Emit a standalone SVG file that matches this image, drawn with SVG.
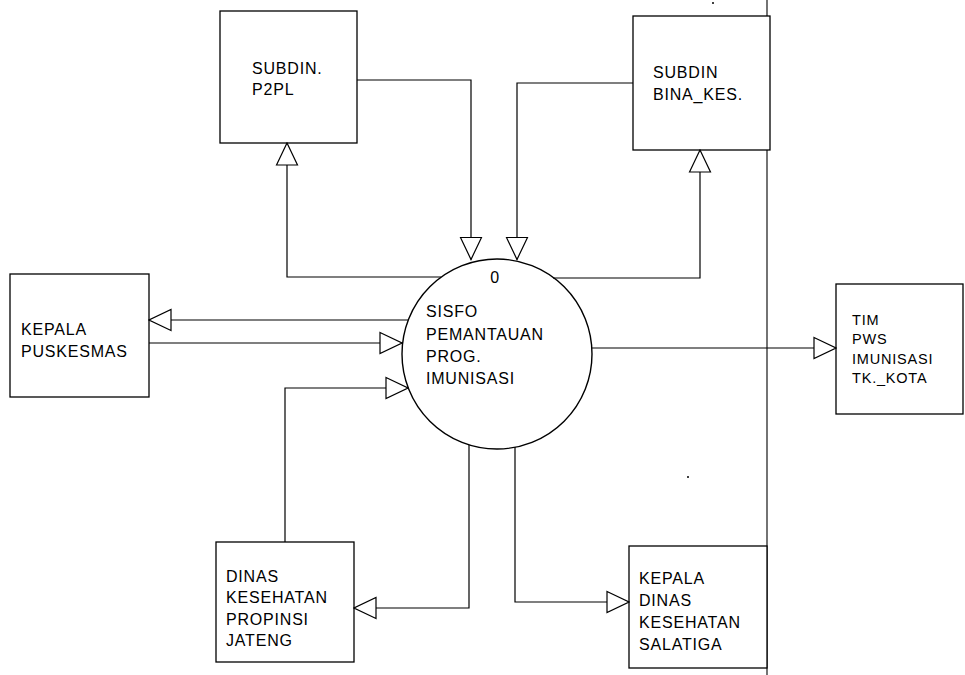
<svg xmlns="http://www.w3.org/2000/svg" width="965" height="675" viewBox="0 0 965 675">
<style>
.box{fill:#fff;stroke:#000;stroke-width:1.3}
.proc{fill:#fff;stroke:#000;stroke-width:1.4}
.lbl{font-family:"Liberation Sans",Arial,sans-serif;font-size:16px;letter-spacing:0.8px;fill:#000}
.sm{font-size:14.5px}
.conn{fill:none;stroke:#000;stroke-width:1.2;marker-end:url(#tri)}
.rule{stroke:#000;stroke-width:1.1}
</style>
<defs>
<marker id="tri" markerUnits="userSpaceOnUse" viewBox="0 0 24 24" markerWidth="24" markerHeight="24" refX="23" refY="12" orient="auto">
<path d="M1,1.5 L23,12 L1,22.5 Z" fill="#fff" stroke="#000" stroke-width="1.2"/>
</marker>
</defs>
<rect width="965" height="675" fill="#fff"/>
<line class="rule" x1="767" y1="0" x2="767" y2="675"/>
<g id="p2pl">
<rect class="box" x="220" y="11" width="137" height="132"/>
<text class="lbl" x="252" y="74">SUBDIN.</text>
<text class="lbl" x="252" y="95">P2PL</text>
</g>
<g id="binakes">
<rect class="box" x="633" y="16" width="137" height="134"/>
<text class="lbl" x="653" y="78">SUBDIN</text>
<text class="lbl" x="653" y="100">BINA_KES.</text>
</g>
<g id="puskesmas">
<rect class="box" x="10" y="274" width="139" height="123"/>
<text class="lbl" x="21" y="335">KEPALA</text>
<text class="lbl" x="21" y="357">PUSKESMAS</text>
</g>
<g id="proses0">
<circle class="proc" cx="497" cy="354" r="95"/>
<text class="lbl" x="495" y="283" text-anchor="middle">0</text>
<text class="lbl" x="426" y="317">SISFO</text>
<text class="lbl" x="426" y="340">PEMANTAUAN</text>
<text class="lbl" x="426" y="362">PROG.</text>
<text class="lbl" x="426" y="384">IMUNISASI</text>
</g>
<g id="tim">
<rect class="box" x="836" y="284" width="127" height="130"/>
<text class="lbl sm" x="852" y="325">TIM</text>
<text class="lbl sm" x="852" y="344">PWS</text>
<text class="lbl sm" x="852" y="364">IMUNISASI</text>
<text class="lbl sm" x="852" y="383">TK._KOTA</text>
</g>
<g id="dinasprop">
<rect class="box" x="216" y="542" width="138" height="120"/>
<text class="lbl" x="226" y="582">DINAS</text>
<text class="lbl" x="226" y="603">KESEHATAN</text>
<text class="lbl" x="226" y="625">PROPINSI</text>
<text class="lbl" x="226" y="646">JATENG</text>
</g>
<g id="kepaladinas">
<rect class="box" x="629" y="546" width="138" height="122"/>
<text class="lbl" x="639" y="584">KEPALA</text>
<text class="lbl" x="639" y="606">DINAS</text>
<text class="lbl" x="639" y="628">KESEHATAN</text>
<text class="lbl" x="639" y="650">SALATIGA</text>
</g>
<g id="connectors">
<path class="conn" d="M357,80 H471 V259.5"/>
<path class="conn" d="M633,83 H517 V259.5"/>
<path class="conn" d="M441,277 H287 V143"/>
<path class="conn" d="M553,278 H700 V150"/>
<path class="conn" d="M408,320 H149"/>
<path class="conn" d="M149,343 H402"/>
<path class="conn" d="M285,542 V388 H408"/>
<path class="conn" d="M592,348 H836"/>
<path class="conn" d="M469,445 V608 H354"/>
<path class="conn" d="M515,447 V602 H629"/>
</g>
<circle cx="688" cy="477" r="1" fill="#000"/>
<circle cx="713" cy="3" r="1" fill="#000"/>
</svg>
